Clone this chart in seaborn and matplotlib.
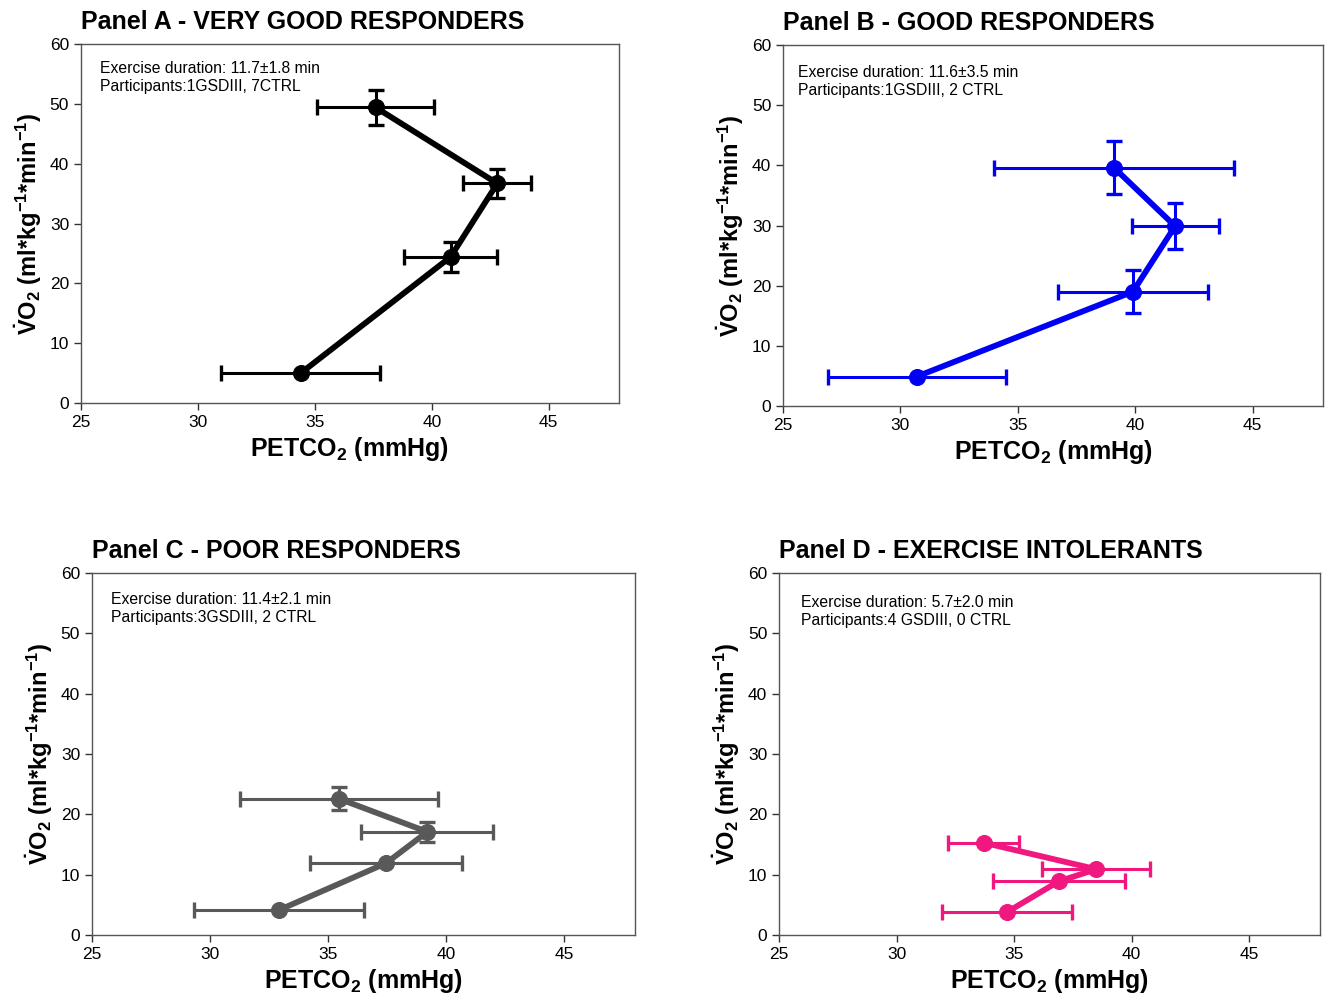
import matplotlib
matplotlib.use("Agg")
import matplotlib.pyplot as plt
import seaborn as sns
import pandas as pd
import numpy as np

sns.set_style("ticks")
plt.rcParams["font.family"] = ["Liberation Sans", "DejaVu Sans"]
plt.rcParams["mathtext.fontset"] = "custom"
plt.rcParams["mathtext.rm"] = "Liberation Sans"
plt.rcParams["mathtext.bf"] = "Liberation Sans:bold"
plt.rcParams["mathtext.it"] = "Liberation Sans:italic"
plt.rcParams["text.color"] = "black"
plt.rcParams["axes.labelcolor"] = "black"

# PETCO2 (x) and VO2 (y) means with SD, in the order they are connected
a_x = [34.4, 40.8, 42.8, 37.6]
a_xerr = [3.4, 2.0, 1.45, 2.5]
a_y = [5.0, 24.4, 36.7, 49.4]
a_yerr = [0.0, 2.5, 2.4, 3.0]

b_x = [30.7, 39.9, 41.7, 39.1]
b_xerr = [3.8, 3.2, 1.85, 5.1]
b_y = [4.9, 19.0, 29.9, 39.6]
b_yerr = [0.0, 3.6, 3.8, 4.4]

c_x = [32.9, 37.45, 39.2, 35.45]
c_xerr = [3.6, 3.2, 2.8, 4.2]
c_y = [4.1, 11.9, 17.1, 22.6]
c_yerr = [0.0, 0.0, 1.7, 1.9]

d_x = [34.7, 36.9, 38.5, 33.7]
d_xerr = [2.75, 2.8, 2.3, 1.5]
d_y = [3.8, 8.9, 10.9, 15.3]
d_yerr = [0.0, 0.0, 0.0, 0.0]

titles = ["Panel A - VERY GOOD RESPONDERS", "Panel B - GOOD RESPONDERS",
          "Panel C - POOR RESPONDERS", "Panel D - EXERCISE INTOLERANTS"]
notes = ["Exercise duration: 11.7\u00b11.8 min\nParticipants:1GSDIII, 7CTRL",
         "Exercise duration: 11.6\u00b13.5 min\nParticipants:1GSDIII, 2 CTRL",
         "Exercise duration: 11.4\u00b12.1 min\nParticipants:3GSDIII, 2 CTRL",
         "Exercise duration: 5.7\u00b12.0 min\nParticipants:4 GSDIII, 0 CTRL"]
colors = ["#000000", "#0000f5", "#595959", "#f0187f"]

panels = [(a_x, a_xerr, a_y, a_yerr), (b_x, b_xerr, b_y, b_yerr),
          (c_x, c_xerr, c_y, c_yerr), (d_x, d_xerr, d_y, d_yerr)]

# axes rectangles in figure fractions
rects = [[0.0611, 0.5958, 0.406, 0.360],
         [0.591, 0.5928, 0.4075, 0.362],
         [0.0694, 0.0622, 0.410, 0.363],
         [0.588, 0.0622, 0.408, 0.363]]
note_pos = [(0.035, 0.953), (0.028, 0.945), (0.035, 0.947), (0.041, 0.939)]

fig = plt.figure(figsize=(13.25, 9.97), dpi=100)

for i, (xs, xe, ys, ye) in enumerate(panels):
    ax = fig.add_axes(rects[i])
    df = pd.DataFrame({"x": xs, "y": ys})
    col = colors[i]
    ax.errorbar(xs, ys, xerr=xe, fmt="none", ecolor=col, elinewidth=2.2,
                capsize=5.5, capthick=2.4, zorder=2)
    ye_arr = np.array(ye)
    has = ye_arr > 0
    if has.any():
        ax.errorbar(np.array(xs)[has], np.array(ys)[has], yerr=ye_arr[has],
                    fmt="none", ecolor=col, elinewidth=2.2, capsize=5.5,
                    capthick=2.4, zorder=2)
    sns.lineplot(data=df, x="x", y="y", sort=False, estimator=None,
                 color=col, linewidth=4.2, marker="o", markersize=11.5,
                 markeredgecolor=col, ax=ax, zorder=3)
    ax.set_xlim(25, 48)
    ax.set_ylim(0, 60)
    ax.set_xticks([25, 30, 35, 40, 45])
    ax.set_yticks([0, 10, 20, 30, 40, 50, 60])
    ax.tick_params(labelsize=12.5, length=5, width=1, colors="#333333",
                   labelcolor="black")
    for s in ax.spines.values():
        s.set_color("#555555")
        s.set_linewidth(1)
    ax.set_xlabel(r"PETCO$_\mathbf{2}$ (mmHg)", fontsize=18, fontweight="bold",
                  labelpad=4)
    ax.set_ylabel(r"$\mathbf{\dot{V}O_2}$ (ml*kg$^\mathbf{-1}$*min$^\mathbf{-1}$)",
                  fontsize=17, fontweight="bold", labelpad=4)
    ax.set_title(titles[i], loc="left", fontsize=18, fontweight="bold", pad=11)
    ax.text(note_pos[i][0], note_pos[i][1], notes[i], transform=ax.transAxes,
            fontsize=11.3, va="top", ha="left", linespacing=1.25)

fig.savefig("out.png", dpi=100)
